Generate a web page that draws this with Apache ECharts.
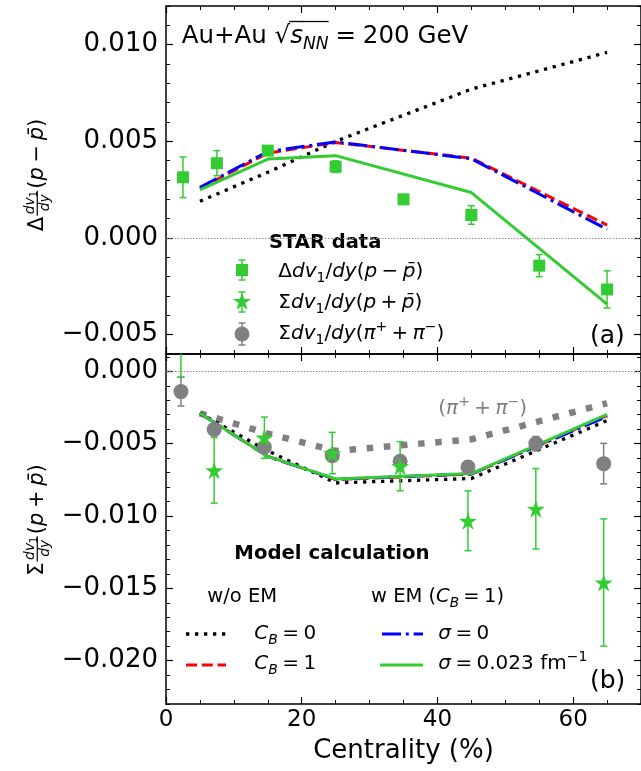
<!DOCTYPE html>
<html><head><meta charset="utf-8">
<script src="https://cdn.jsdelivr.net/npm/echarts@6/dist/echarts.min.js"></script>
<style>html,body{margin:0;padding:0;background:#fff}#c{width:641px;height:771px}</style>
</head><body><div id="c"></div>
<script>
// ---------------- data ----------------
const modelX = [5, 15, 25, 45, 65];
// panel (a): Δdv1/dy(p − p̄)
const topNoEM_CB0   = [0.0019, 0.0034, 0.0050, 0.0077, 0.0096];
const topNoEM_CB1   = [0.00257, 0.00439, 0.00494, 0.00413, 0.00067];
const topEM_sig0    = [0.00262, 0.00447, 0.00497, 0.00410, 0.00045];
const topEM_sig023  = [0.00249, 0.00408, 0.00426, 0.00235, -0.00342];
const deltaX   = [2.5, 7.5, 15, 25, 35, 45, 55, 65];
const deltaY   = [0.00314, 0.00387, 0.00452, 0.00369, 0.00200, 0.00119, -0.00143, -0.00266];
const deltaErr = [0.00105, 0.00065, 0.0002, 0.0003, 0.0002, 0.00048, 0.00057, 0.00096];
// panel (b): Σdv1/dy
const sumX     = [2.2, 7.1, 14.5, 24.5, 34.5, 44.5, 54.5, 64.5];
const pionY    = [-0.00140, -0.00402, -0.00523, -0.00583, -0.00622, -0.00661, -0.00500, -0.00638];
const pionErr  = [0.0010, 0.0004, 0.0003, 0.0003, 0.0003, 0.0004, 0.0005, 0.0014];
const sumPY    = [0.0030, -0.00684, -0.00459, -0.00565, -0.00656, -0.01033, -0.00950, -0.0146];
const sumPErr  = [0.0034, 0.00227, 0.00143, 0.00143, 0.0017, 0.00207, 0.00278, 0.0044];
const pionModel     = [-0.0029, -0.0043, -0.0055, -0.0047, -0.0022];
const botNoEM_CB0   = [-0.0029, -0.0055, -0.00771, -0.00741, -0.00340];
const botNoEM_CB1   = [-0.0029, -0.00588, -0.00748, -0.00710, -0.00305];
const botEM_sig0    = [-0.0029, -0.00588, -0.00746, -0.00709, -0.00312];
const botEM_sig023  = [-0.0029, -0.00588, -0.00744, -0.00707, -0.00298];
// axis ticks
const xTicks = [0, 20, 40, 60];
const topYTicks = [-0.005, 0, 0.005, 0.010];
const botYTicks = [-0.020, -0.015, -0.010, -0.005, 0];

// ---------------- helpers ----------------
const GREEN = '#33cc33', GRAY = '#808080';
const FAM = 'DejaVu Sans';
const mctx = document.createElement('canvas').getContext('2d');
const KINDS = {n:['normal','normal',1,0], i:['italic','normal',1,0], b:['normal','bold',1,0],
  sub:['normal','normal',0.7,0.22], isub:['italic','normal',0.7,0.22], sup:['normal','normal',0.7,-0.4]};
function layout(tokens, size, x0, base, color, out) {
  let cx = x0;
  for (const tk of tokens) {
    const [t, k, flag] = tk;
    if (k === 'sp') { cx += t * size; continue; }
    if (k === 'frac') {
      const fs = size * 0.66;
      const wn = layout(t.num, fs, 0, 0, color, null);
      const wd = layout(t.den, fs, 0, 0, color, null);
      const W = Math.max(wn, wd) + 3;
      const barY = base - size * 0.32;
      if (out) {
        layout(t.num, fs, cx + (W - wn) / 2 + 1, barY - size * 0.14, color, out);
        layout(t.den, fs, cx + (W - wd) / 2 + 1, barY + fs * 0.85, color, out);
        out.push({type:'line', shape:{x1:cx + 1, y1:barY, x2:cx + W, y2:barY}, style:{stroke:color, lineWidth:1.2}});
      }
      cx += W + 2; continue;
    }
    const [fst, fw, sc, dy] = KINDS[k];
    const s = size * sc;
    mctx.font = `${fst} ${fw} ${s}px "${FAM}"`;
    const w = mctx.measureText(t).width;
    const b = base + dy * size;
    if (out) {
      out.push({type:'text', x:cx, y:b - 0.3 * s, style:{text:t, fill:color, fontSize:s, fontFamily:FAM,
        fontStyle:fst, fontWeight:fw, align:'left', verticalAlign:'middle', textAlign:'left', textVerticalAlign:'middle'}});
      if (flag === 'bar') out.push({type:'line', shape:{x1:cx - 1, y1:base - size * 0.93, x2:cx + w, y2:base - size * 0.93},
        style:{stroke:color, lineWidth:1.3}});
    }
    cx += w;
  }
  return cx - x0;
}
function mathText(tokens, size, x, y, opt) {
  opt = opt || {};
  const color = opt.color || '#000';
  const W = layout(tokens, size, 0, 0, color, null);
  const ox = opt.align === 'center' ? -W / 2 : 0;
  const children = [];
  layout(tokens, size, ox, 0, color, children);
  return {type:'group', x:x, y:y, rotation:opt.rotation || 0, children:children, silent:true};
}
function starPts(cx, cy, R) {
  const r = R * 0.382, pts = [];
  for (let i = 0; i < 10; i++) {
    const a = -Math.PI / 2 + i * Math.PI / 5, rr = i % 2 ? r : R;
    pts.push([cx + rr * Math.cos(a), cy + rr * Math.sin(a)]);
  }
  return pts;
}
function errBarG(x, y, h, color) {
  const st = {stroke:color, lineWidth:1.5};
  return [
    {type:'line', shape:{x1:x, y1:y - h, x2:x, y2:y + h}, style:st},
    {type:'line', shape:{x1:x - 3.5, y1:y - h, x2:x + 3.5, y2:y - h}, style:st},
    {type:'line', shape:{x1:x - 3.5, y1:y + h, x2:x + 3.5, y2:y + h}, style:st}];
}
const STAR = 'path://M0,-10L2.245,-3.09L9.511,-3.09L3.633,1.18L5.878,8.09L0,3.82L-5.878,8.09L-3.633,1.18L-9.511,-3.09L-2.245,-3.09Z';

function isMajor(v) { return Math.abs(v / 0.005 - Math.round(v / 0.005)) < 1e-6; }
function fmtY(v) { if (!isMajor(v)) return ''; return (v < -1e-12 ? '\u2212' : '') + Math.abs(v).toFixed(3); }
function fmtX(v) { return xTicks.indexOf(v) >= 0 ? String(v) : ''; }

function xAx(grid, pos, labels) {
  const a = {type:'value', gridIndex:grid, position:pos, min:0, max:70, interval:20,
    axisLine:{show:true, onZero:false, lineStyle:{color:'#000', width:1.5}},
    axisTick:{show:true, inside:true, length:7, lineStyle:{color:'#000', width:1.2}},
    minorTick:{show:true, splitNumber:4, length:4, lineStyle:{color:'#000', width:1}},
    splitLine:{show:false}, minorSplitLine:{show:false},
    axisLabel:{show:labels, formatter:fmtX, fontSize:23, fontFamily:FAM, color:'#000', margin:5,
      customValues: xTicks}};
  if (labels) Object.assign(a, {name:'Centrality (%)', nameLocation:'middle', nameGap:34,
    nameTextStyle:{fontSize:26, fontFamily:FAM, color:'#000'}});
  return a;
}
function yAx(grid, pos, min, max, majors, labels, minor) {
  return {type:'value', gridIndex:grid, position:pos, min:min, max:max, interval:0.001,
    axisLine:{show:!minor, onZero:false, lineStyle:{color:'#000', width:1.5}},
    axisTick:minor ? {show:true, inside:true, length:4, lineStyle:{color:'#000', width:1}}
                   : {show:true, inside:true, length:7, customValues:majors, lineStyle:{color:'#000', width:1.2}},
    splitLine:{show:false},
    axisLabel:{show:labels, customValues:majors, formatter:fmtY, fontSize:26, fontFamily:FAM, color:'#000', margin:8}};
}
function lineS(xi, yi, ys, color, width, dash, z) {
  return {type:'line', xAxisIndex:xi, yAxisIndex:yi, data:modelX.map((x, i) => [x, ys[i]]),
    showSymbol:false, symbol:'none', silent:true, z:z || 2, animation:false,
    lineStyle:{color:color, width:width, type:dash || 'solid', cap:'butt'}};
}
function errS(xi, yi, xs, ys, es, color) {
  return {type:'custom', xAxisIndex:xi, yAxisIndex:yi, clip:true, silent:true, z:3, animation:false,
    data: xs.map((x, i) => [x, ys[i], es[i]]),
    renderItem: function (params, api) {
      const x = api.value(0), y = api.value(1), e = api.value(2);
      const a = api.coord([x, y + e]), b = api.coord([x, y - e]), c = 3.5;
      const st = {stroke:color, lineWidth:1.5};
      return {type:'group', children:[
        {type:'line', shape:{x1:a[0], y1:a[1], x2:b[0], y2:b[1]}, style:st},
        {type:'line', shape:{x1:a[0] - c, y1:a[1], x2:a[0] + c, y2:a[1]}, style:st},
        {type:'line', shape:{x1:b[0] - c, y1:b[1], x2:b[0] + c, y2:b[1]}, style:st}]};
    }};
}
function scatS(xi, yi, xs, ys, sym, size, color, z) {
  return {type:'scatter', xAxisIndex:xi, yAxisIndex:yi, data:xs.map((x, i) => [x, ys[i]]),
    symbol:sym, symbolSize:size, silent:true, z:z || 4, animation:false, itemStyle:{color:color, opacity:1}};
}

const DOT = [3.3, 5.7], DASH = [11, 4.8], DASHDOT = [19, 4.8, 3, 4.8], BIGDOT = [6.5, 10.7];

// ---------------- graphic (texts / legends) ----------------
const g = [];
// title
g.push(mathText([['Au+Au ', 'n'], ['\u221A', 'n'], ['s', 'i', 'bar'], ['NN', 'isub', 'bar'], [0.28, 'sp'], ['=', 'n'], [0.28, 'sp'], ['200 GeV', 'n']], 24.5, 181.7, 44.3));
// y-axis titles
g.push(mathText([['\u0394', 'n'], [{num:[['dv', 'i'], ['1', 'sub']], den:[['dy', 'i']]}, 'frac'], ['(', 'n'], ['p', 'i'], [0.22, 'sp'], ['\u2212', 'n'], [0.22, 'sp'], ['p\u0304', 'i'], [')', 'n']], 21, 44, 175, {align:'center', rotation:Math.PI / 2}));
g.push(mathText([['\u03A3', 'n'], [{num:[['dv', 'i'], ['1', 'sub']], den:[['dy', 'i']]}, 'frac'], ['(', 'n'], ['p', 'i'], [0.22, 'sp'], ['+', 'n'], [0.22, 'sp'], ['p\u0304', 'i'], [')', 'n']], 21, 44, 520, {align:'center', rotation:Math.PI / 2}));
// STAR legend
g.push(mathText([['STAR data', 'b']], 19.5, 269, 249));
g.push({type:'group', silent:true, children:[
  ...errBarG(242, 270, 10, GREEN),
  {type:'rect', shape:{x:236, y:264, width:12, height:12}, style:{fill:GREEN}},
  ...errBarG(242, 302, 10, GREEN),
  {type:'polygon', shape:{points:starPts(242, 302, 9.5)}, style:{fill:GREEN}},
  ...errBarG(242, 334, 11, GRAY),
  {type:'circle', shape:{cx:242, cy:334, r:7.5}, style:{fill:GRAY}}]});
const dvdy = [['dv', 'i'], ['1', 'sub'], ['/', 'n'], ['dy', 'i'], ['(', 'n']];
g.push(mathText([['\u0394', 'n'], ...dvdy, ['p', 'i'], [0.22, 'sp'], ['\u2212', 'n'], [0.22, 'sp'], ['p\u0304', 'i'], [')', 'n']], 20, 278.3, 278));
g.push(mathText([['\u03A3', 'n'], ...dvdy, ['p', 'i'], [0.22, 'sp'], ['+', 'n'], [0.22, 'sp'], ['p\u0304', 'i'], [')', 'n']], 20, 278.3, 309));
g.push(mathText([['\u03A3', 'n'], ...dvdy, ['\u03C0', 'i'], ['+', 'sup'], [0.22, 'sp'], ['+', 'n'], [0.22, 'sp'], ['\u03C0', 'i'], ['\u2212', 'sup'], [')', 'n']], 20, 278.3, 340));
g.push(mathText([['(a)', 'n']], 25, 590, 344));
// panel (b) texts
g.push(mathText([['(', 'n'], ['\u03C0', 'i'], ['+', 'sup'], [0.22, 'sp'], ['+', 'n'], [0.22, 'sp'], ['\u03C0', 'i'], ['\u2212', 'sup'], [')', 'n']], 20, 438.3, 414.3, {color:GRAY}));
g.push(mathText([['Model calculation', 'b']], 19.7, 234.3, 560));
g.push(mathText([['w/o EM', 'n']], 19.5, 207.3, 603));
g.push(mathText([['w EM (', 'n'], ['C', 'i'], ['B', 'isub'], [0.22, 'sp'], ['=', 'n'], [0.22, 'sp'], ['1)', 'n']], 19.5, 371, 603));
g.push({type:'group', silent:true, children:[
  {type:'line', shape:{x1:186, y1:634, x2:226, y2:634}, style:{stroke:'#000', lineWidth:3.3, lineDash:DOT}},
  {type:'line', shape:{x1:186, y1:665, x2:226, y2:665}, style:{stroke:'#ff0000', lineWidth:3, lineDash:DASH}},
  {type:'line', shape:{x1:382, y1:634, x2:423, y2:634}, style:{stroke:'#0000ff', lineWidth:3, lineDash:DASHDOT}},
  {type:'line', shape:{x1:380, y1:665, x2:423, y2:665}, style:{stroke:GREEN, lineWidth:3}}]});
g.push(mathText([['C', 'i'], ['B', 'isub'], [0.22, 'sp'], ['=', 'n'], [0.22, 'sp'], ['0', 'n']], 20, 254.3, 640));
g.push(mathText([['C', 'i'], ['B', 'isub'], [0.22, 'sp'], ['=', 'n'], [0.22, 'sp'], ['1', 'n']], 20, 254.3, 670));
g.push(mathText([['\u03C3', 'i'], [0.22, 'sp'], ['=', 'n'], [0.22, 'sp'], ['0', 'n']], 20, 438.3, 640));
g.push(mathText([['\u03C3', 'i'], [0.22, 'sp'], ['=', 'n'], [0.22, 'sp'], ['0.023 fm', 'n'], ['\u22121', 'sup']], 20, 438.3, 670));
g.push(mathText([['(b)', 'n']], 25, 590, 689));

// ---------------- option ----------------
const zeroLine = {silent:true, symbol:'none', animation:false, label:{show:false},
  lineStyle:{color:'#8c8c8c', width:1, type:[1.5, 1.5]}, data:[{yAxis:0}]};
const topBlack = lineS(0, 0, topNoEM_CB0, '#000', 3.3, DOT);
topBlack.markLine = zeroLine;
const botPion = lineS(2, 4, pionModel, GRAY, 6.5, BIGDOT);
botPion.markLine = zeroLine;

const option = {
  animation:false,
  textStyle:{fontFamily:FAM},
  grid:[{left:166, top:6, width:477.5, height:348},
        {left:166, top:354, width:477.5, height:350}],
  xAxis:[xAx(0, 'bottom', false), xAx(0, 'top', false), xAx(1, 'bottom', true), xAx(1, 'top', false)],
  yAxis:[yAx(0, 'left', -0.006, 0.012, topYTicks, true, false), yAx(0, 'left', -0.006, 0.012, topYTicks, false, true),
         yAx(0, 'right', -0.006, 0.012, topYTicks, false, false), yAx(0, 'right', -0.006, 0.012, topYTicks, false, true),
         yAx(1, 'left', -0.023, 0.0012, botYTicks, true, false), yAx(1, 'left', -0.023, 0.0012, botYTicks, false, true),
         yAx(1, 'right', -0.023, 0.0012, botYTicks, false, false), yAx(1, 'right', -0.023, 0.0012, botYTicks, false, true)],
  series:[
    topBlack,
    lineS(0, 0, topNoEM_CB1, '#ff0000', 3, DASH),
    lineS(0, 0, topEM_sig0, '#0000ff', 3, DASHDOT),
    lineS(0, 0, topEM_sig023, GREEN, 3, 'solid'),
    errS(0, 0, deltaX, deltaY, deltaErr, GREEN),
    scatS(0, 0, deltaX, deltaY, 'rect', 12, GREEN),
    botPion,
    lineS(2, 4, botNoEM_CB0, '#000', 3.3, DOT),
    lineS(2, 4, botNoEM_CB1, '#ff0000', 3, DASH),
    lineS(2, 4, botEM_sig0, '#0000ff', 3, DASHDOT),
    lineS(2, 4, botEM_sig023, GREEN, 3, 'solid'),
    errS(2, 4, sumX, pionY, pionErr, GRAY),
    scatS(2, 4, sumX, pionY, 'circle', 15, GRAY, 4),
    errS(2, 4, sumX, sumPY, sumPErr, GREEN),
    scatS(2, 4, sumX, sumPY, STAR, 18, GREEN, 5)
  ],
  graphic:{elements:g}
};
const chart = echarts.init(document.getElementById('c'), null, {renderer:'canvas'});
chart.setOption(option);
</script></body></html>
